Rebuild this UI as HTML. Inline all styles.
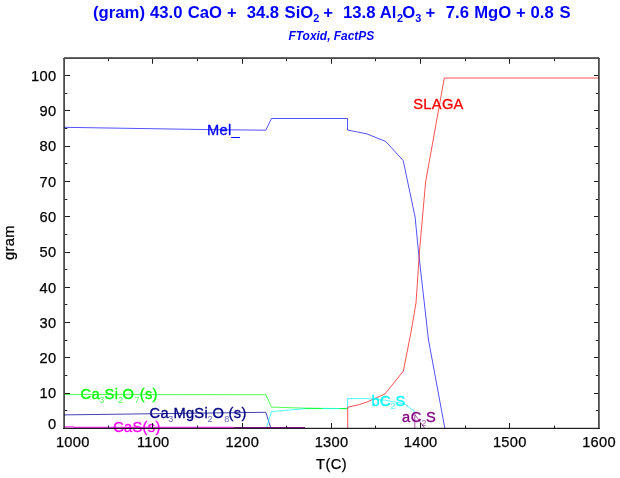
<!DOCTYPE html>
<html><head><meta charset="utf-8"><title>chart</title><style>
html,body{margin:0;padding:0;background:#fff;}
svg{display:block;will-change:transform;font-family:"Liberation Sans",sans-serif;}
</style></head><body>
<svg width="620" height="478" viewBox="0 0 620 478">
<rect x="0" y="0" width="620" height="478" fill="#ffffff"/>
<g font-weight="bold" fill="#0000ff">
<text x="93.02" y="18.2" font-size="16.7">(gram)</text>
<text x="149.95" y="18.2" font-size="16.7">43.0</text>
<text x="187.71" y="18.2" font-size="16.7">CaO</text>
<text x="226.91" y="18.2" font-size="16.7">+</text>
<text x="246.64" y="18.2" font-size="16.7">34.8</text>
<text x="284.51" y="18.2" font-size="16.7">SiO</text>
<text x="313.16" y="21.9" font-size="10.9">2</text>
<text x="323.21" y="18.2" font-size="16.7">+</text>
<text x="343.01" y="18.2" font-size="16.7">13.8</text>
<text x="379.71" y="18.2" font-size="16.7">Al</text>
<text x="396.96" y="21.9" font-size="10.9">2</text>
<text x="402.21" y="18.2" font-size="16.7">O</text>
<text x="415.14" y="21.9" font-size="10.9">3</text>
<text x="425.61" y="18.2" font-size="16.7">+</text>
<text x="445.81" y="18.2" font-size="16.7">7.6</text>
<text x="474.15" y="18.2" font-size="16.7">MgO</text>
<text x="516.01" y="18.2" font-size="16.7">+</text>
<text x="530.55" y="18.2" font-size="16.7">0.8</text>
<text x="559.61" y="18.2" font-size="16.7">S</text>
</g>
<text x="288.5" y="39.5" font-size="11.93" font-weight="bold" font-style="italic" fill="#0000ff">FToxid, FactPS</text>
<polyline fill="none" stroke="#00ff00" stroke-width="0.68" points="64.0,394.5 265.8,394.7 271.5,407.1 304.7,408.2 347.5,408.6"/>
<polyline fill="none" stroke="#3838b0" stroke-width="0.95" points="64.0,414.9 149.0,413.8 265.8,412.3 270.8,428.0"/>
<polyline fill="none" stroke="#00ffff" stroke-width="0.68" points="266.3,428.0 271.5,411.6 304.7,408.7 322.0,408.6 347.5,408.6 347.6,398.5 367.0,398.6 385.0,400.2 404.5,403.9 414.8,411.6"/>
<polyline fill="none" stroke="#00ff00" stroke-width="0.68" points="304.7,408.4 322.0,408.5"/>
<polyline fill="none" stroke="#00ff00" stroke-width="0.68" points="340.0,408.6 347.5,408.6"/>
<polyline fill="none" stroke="#ff30ff" stroke-width="1.2" points="64.0,426.9 73.0,426.9 73.5,427.4 233.3,427.4"/>
<polyline fill="none" stroke="#a000a0" stroke-width="0.95" points="233.3,427.5 305.0,427.5"/>
<polyline fill="none" stroke="#800080" stroke-width="0.68" points="414.8,428.0 414.8,414.5 424.5,428.0"/>
<polyline fill="none" stroke="#0000ff" stroke-width="0.68" points="64.0,127.3 208.0,129.6 265.8,130.2 271.5,118.5 347.5,118.5 347.5,130.0 367.0,133.9 385.7,141.5 403.2,160.5 415.1,217.0 418.3,250.0 428.5,340.0 444.8,428.0"/>
<polyline fill="none" stroke="#ff0000" stroke-width="0.68" points="347.7,428.0 347.7,407.2 359.4,404.6 367.0,402.0 373.5,399.1 384.9,394.0 403.4,371.0 411.4,330.0 416.0,303.0 419.6,250.0 425.6,182.0 444.3,78.0 599.0,78.0"/>
<g font-size="14.67" fill="#000000" stroke="#000000" stroke-width="0.25" letter-spacing="0.28">
<text x="56.4" y="429.0" text-anchor="end">0</text>
<text x="56.4" y="398.4" text-anchor="end">10</text>
<text x="56.4" y="363.1" text-anchor="end">20</text>
<text x="56.4" y="327.8" text-anchor="end">30</text>
<text x="56.4" y="292.5" text-anchor="end">40</text>
<text x="56.4" y="257.2" text-anchor="end">50</text>
<text x="56.4" y="221.9" text-anchor="end">60</text>
<text x="56.4" y="186.6" text-anchor="end">70</text>
<text x="56.4" y="151.3" text-anchor="end">80</text>
<text x="56.4" y="116.0" text-anchor="end">90</text>
<text x="56.4" y="80.7" text-anchor="end">100</text>
<text x="72.8" y="446.9" text-anchor="middle">1000</text>
<text x="153.2" y="446.9" text-anchor="middle">1100</text>
<text x="242.3" y="446.9" text-anchor="middle">1200</text>
<text x="331.5" y="446.9" text-anchor="middle">1300</text>
<text x="420.7" y="446.9" text-anchor="middle">1400</text>
<text x="509.8" y="446.9" text-anchor="middle">1500</text>
<text x="599.0" y="446.9" text-anchor="middle">1600</text>
<text x="316.1" y="469.2" letter-spacing="0.4">T(C)</text>
<text transform="translate(14.1,260) rotate(-90)" letter-spacing="0.35">gram</text>
</g>
<g fill="#0000ff" letter-spacing="0.3">
<text x="207.00" y="135.10" font-size="14.67" stroke="#0000ff" stroke-width="0.3">Mel_</text>
</g>
<g fill="#ff0000" letter-spacing="0.3">
<text x="413.30" y="109.10" font-size="14.67" stroke="#ff0000" stroke-width="0.3">SLAGA</text>
</g>
<g fill="#00ff00" letter-spacing="0.3">
<text x="80.50" y="399.10" font-size="14.67" stroke="#00ff00" stroke-width="0.3">Ca</text>
<text x="99.30" y="402.70" font-size="9.0" fill-opacity="0.65">3</text>
<text x="104.60" y="399.10" font-size="14.67" stroke="#00ff00" stroke-width="0.3">Si</text>
<text x="118.00" y="402.70" font-size="9.0" fill-opacity="0.65">2</text>
<text x="122.50" y="399.10" font-size="14.67" stroke="#00ff00" stroke-width="0.3">O</text>
<text x="134.40" y="402.70" font-size="9.0" fill-opacity="0.65">7</text>
<text x="139.80" y="399.10" font-size="14.67" stroke="#00ff00" stroke-width="0.3">(s)</text>
</g>
<g fill="#000080" letter-spacing="0.3">
<text x="149.50" y="418.10" font-size="14.67" stroke="#000080" stroke-width="0.3">Ca</text>
<text x="168.30" y="421.70" font-size="9.0" fill-opacity="0.65">3</text>
<text x="173.40" y="418.10" font-size="14.67" stroke="#000080" stroke-width="0.3">MgSi</text>
<text x="207.50" y="421.70" font-size="9.0" fill-opacity="0.65">2</text>
<text x="212.50" y="418.10" font-size="14.67" stroke="#000080" stroke-width="0.3">O</text>
<text x="224.30" y="421.70" font-size="9.0" fill-opacity="0.65">8</text>
<text x="228.60" y="418.10" font-size="14.67" stroke="#000080" stroke-width="0.3">(s)</text>
</g>
<g fill="#ff00ff" letter-spacing="0.3">
<text x="113.20" y="432.30" font-size="14.67" stroke="#ff00ff" stroke-width="0.3">CaS(s)</text>
</g>
<g fill="#00ffff" letter-spacing="0.3">
<text x="371.60" y="405.70" font-size="14.67" stroke="#00ffff" stroke-width="0.3">bC</text>
<text x="390.50" y="409.30" font-size="9.0" fill-opacity="0.65">2</text>
<text x="395.60" y="405.70" font-size="14.67" stroke="#00ffff" stroke-width="0.3">S</text>
</g>
<g fill="#800080" letter-spacing="0.3">
<text x="402.00" y="422.40" font-size="14.67" stroke="#800080" stroke-width="0.3">a</text>
<text x="410.80" y="422.40" font-size="14.67" stroke="#800080" stroke-width="0.3">C</text>
<text x="421.50" y="426.00" font-size="9.0" fill-opacity="0.65">2</text>
<text x="426.00" y="422.40" font-size="14.67" stroke="#800080" stroke-width="0.3">S</text>
</g>
<rect x="64" y="57" width="535" height="1" fill="#000" fill-opacity="0.6"/>
<rect x="63" y="58" width="537" height="1" fill="#000" fill-opacity="0.7"/>
<rect x="65" y="427" width="533" height="1" fill="#000" fill-opacity="0.2"/>
<rect x="63" y="428" width="537" height="1" fill="#000" fill-opacity="0.87"/>
<rect x="63" y="59" width="1" height="369" fill="#000" fill-opacity="0.55"/>
<rect x="64" y="59" width="1" height="369" fill="#000" fill-opacity="0.7"/>
<rect x="598" y="59" width="1" height="369" fill="#000" fill-opacity="0.71"/>
<rect x="599" y="59" width="1" height="369" fill="#000" fill-opacity="0.55"/>
<rect x="108" y="425.6" width="1" height="2.4" fill="#1c1c1c"/>
<rect x="108" y="59" width="1" height="2.1999999999999997" fill="#1c1c1c"/>
<rect x="152" y="423.0" width="1" height="5" fill="#1c1c1c"/>
<rect x="152" y="59" width="1" height="4.8" fill="#1c1c1c"/>
<rect x="197" y="425.6" width="1" height="2.4" fill="#1c1c1c"/>
<rect x="197" y="59" width="1" height="2.1999999999999997" fill="#1c1c1c"/>
<rect x="242" y="423.0" width="1" height="5" fill="#1c1c1c"/>
<rect x="242" y="59" width="1" height="4.8" fill="#1c1c1c"/>
<rect x="286" y="425.6" width="1" height="2.4" fill="#1c1c1c"/>
<rect x="286" y="59" width="1" height="2.1999999999999997" fill="#1c1c1c"/>
<rect x="331" y="423.0" width="1" height="5" fill="#1c1c1c"/>
<rect x="331" y="59" width="1" height="4.8" fill="#1c1c1c"/>
<rect x="375" y="425.6" width="1" height="2.4" fill="#1c1c1c"/>
<rect x="375" y="59" width="1" height="2.1999999999999997" fill="#1c1c1c"/>
<rect x="420" y="423.0" width="1" height="5" fill="#1c1c1c"/>
<rect x="420" y="59" width="1" height="4.8" fill="#1c1c1c"/>
<rect x="465" y="425.6" width="1" height="2.4" fill="#1c1c1c"/>
<rect x="465" y="59" width="1" height="2.1999999999999997" fill="#1c1c1c"/>
<rect x="509" y="423.0" width="1" height="5" fill="#1c1c1c"/>
<rect x="509" y="59" width="1" height="4.8" fill="#1c1c1c"/>
<rect x="554" y="425.6" width="1" height="2.4" fill="#1c1c1c"/>
<rect x="554" y="59" width="1" height="2.1999999999999997" fill="#1c1c1c"/>
<rect x="65" y="410" width="2.3" height="1" fill="#1c1c1c"/>
<rect x="595.8" y="410" width="2.2" height="1" fill="#1c1c1c"/>
<rect x="65" y="393" width="5" height="1" fill="#1c1c1c"/>
<rect x="594" y="393" width="4" height="1" fill="#1c1c1c"/>
<rect x="65" y="375" width="2.3" height="1" fill="#1c1c1c"/>
<rect x="595.8" y="375" width="2.2" height="1" fill="#1c1c1c"/>
<rect x="65" y="357" width="5" height="1" fill="#1c1c1c"/>
<rect x="594" y="357" width="4" height="1" fill="#1c1c1c"/>
<rect x="65" y="340" width="2.3" height="1" fill="#1c1c1c"/>
<rect x="595.8" y="340" width="2.2" height="1" fill="#1c1c1c"/>
<rect x="65" y="322" width="5" height="1" fill="#1c1c1c"/>
<rect x="594" y="322" width="4" height="1" fill="#1c1c1c"/>
<rect x="65" y="304" width="2.3" height="1" fill="#1c1c1c"/>
<rect x="595.8" y="304" width="2.2" height="1" fill="#1c1c1c"/>
<rect x="65" y="287" width="5" height="1" fill="#1c1c1c"/>
<rect x="594" y="287" width="4" height="1" fill="#1c1c1c"/>
<rect x="65" y="269" width="2.3" height="1" fill="#1c1c1c"/>
<rect x="595.8" y="269" width="2.2" height="1" fill="#1c1c1c"/>
<rect x="65" y="252" width="5" height="1" fill="#1c1c1c"/>
<rect x="594" y="252" width="4" height="1" fill="#1c1c1c"/>
<rect x="65" y="234" width="2.3" height="1" fill="#1c1c1c"/>
<rect x="595.8" y="234" width="2.2" height="1" fill="#1c1c1c"/>
<rect x="65" y="216" width="5" height="1" fill="#1c1c1c"/>
<rect x="594" y="216" width="4" height="1" fill="#1c1c1c"/>
<rect x="65" y="199" width="2.3" height="1" fill="#1c1c1c"/>
<rect x="595.8" y="199" width="2.2" height="1" fill="#1c1c1c"/>
<rect x="65" y="181" width="5" height="1" fill="#1c1c1c"/>
<rect x="594" y="181" width="4" height="1" fill="#1c1c1c"/>
<rect x="65" y="163" width="2.3" height="1" fill="#1c1c1c"/>
<rect x="595.8" y="163" width="2.2" height="1" fill="#1c1c1c"/>
<rect x="65" y="146" width="5" height="1" fill="#1c1c1c"/>
<rect x="594" y="146" width="4" height="1" fill="#1c1c1c"/>
<rect x="65" y="128" width="2.3" height="1" fill="#1c1c1c"/>
<rect x="595.8" y="128" width="2.2" height="1" fill="#1c1c1c"/>
<rect x="65" y="110" width="5" height="1" fill="#1c1c1c"/>
<rect x="594" y="110" width="4" height="1" fill="#1c1c1c"/>
<rect x="65" y="93" width="2.3" height="1" fill="#1c1c1c"/>
<rect x="595.8" y="93" width="2.2" height="1" fill="#1c1c1c"/>
<rect x="65" y="75" width="5" height="1" fill="#1c1c1c"/>
<rect x="594" y="75" width="4" height="1" fill="#1c1c1c"/>
</svg></body></html>
